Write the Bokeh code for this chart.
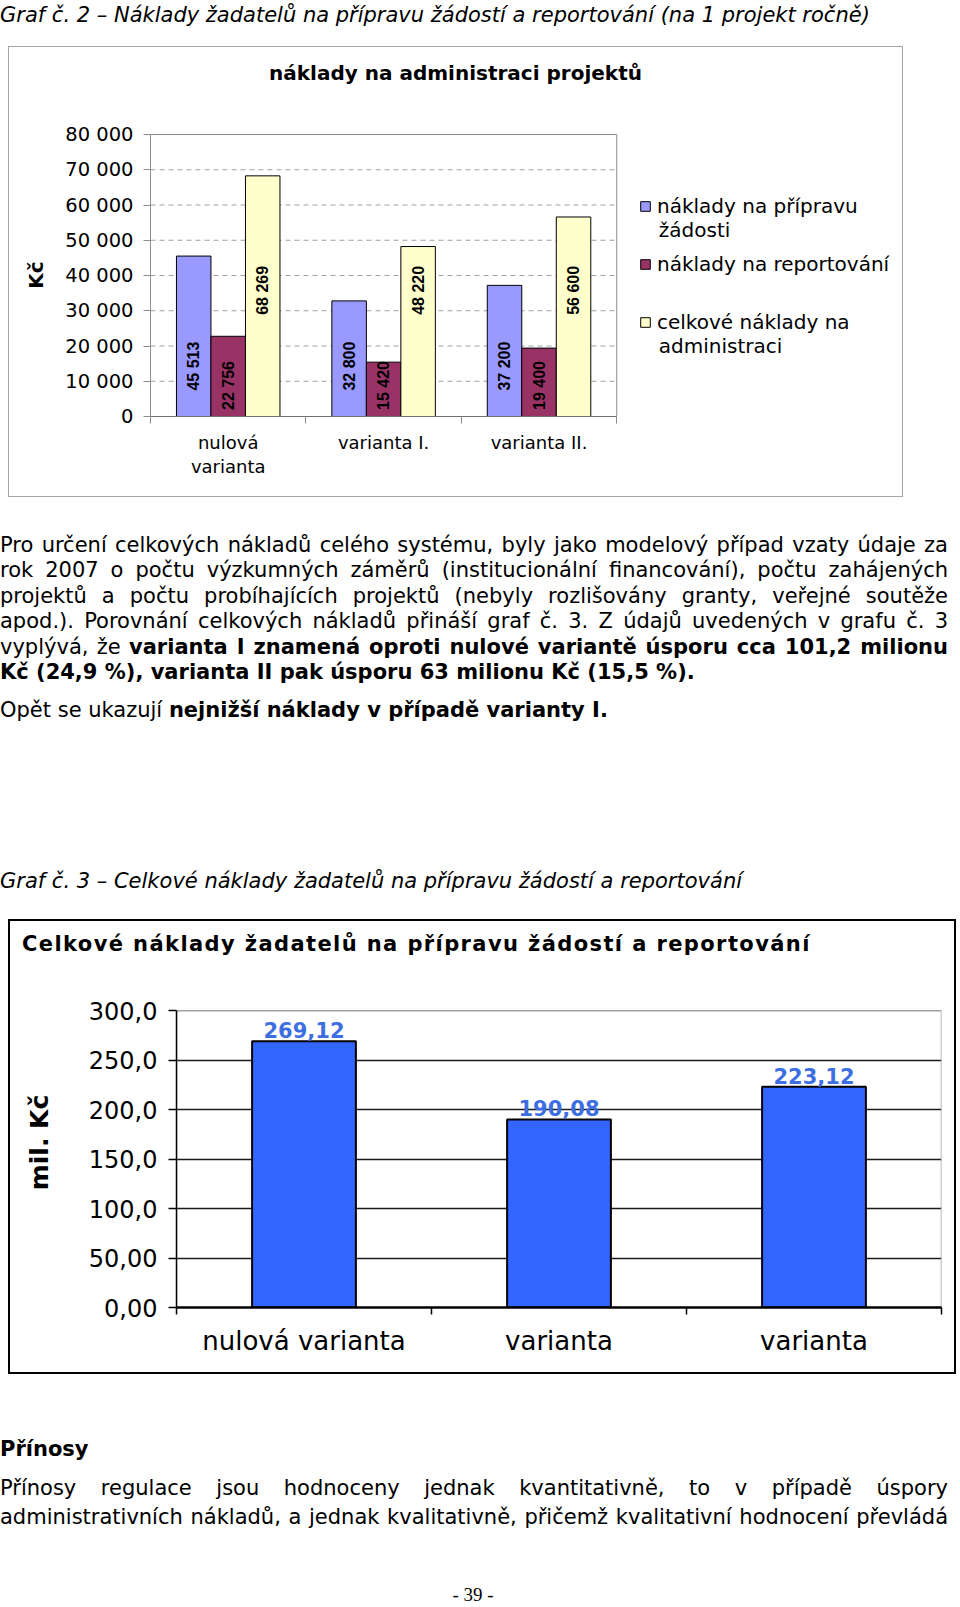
import numpy as np
from bokeh.plotting import figure
from bokeh.models import (Range1d, FixedTicker, Legend, LegendItem, Label, Div,
                          ColumnDataSource)
from bokeh.layouts import column
from bokeh.embed import file_html
from bokeh.resources import INLINE
from bokeh.core.properties import value

# ---------------- data: Graf č. 2 ----------------
graf2_title = "náklady na administraci projektů"
graf2_categories = ["nulová\nvarianta", "varianta I.", "varianta II."]
graf2_series = [["náklady na přípravu", "žádosti"], ["náklady na reportování"],
                ["celkové náklady na", "administraci"]]
naklady_priprava = [45513, 32800, 37200]
naklady_reportovani = [22756, 15420, 19400]
naklady_celkove = [68269, 48220, 56600]
graf2_yticks = [0, 10000, 20000, 30000, 40000, 50000, 60000, 70000, 80000]
graf2_ytick_labels = ["0", "10 000", "20 000", "30 000", "40 000", "50 000",
                      "60 000", "70 000", "80 000"]

# ---------------- data: Graf č. 3 ----------------
graf3_title = "Celkové náklady žadatelů na přípravu žádostí a reportování"
graf3_categories = ["nulová varianta", "varianta", "varianta"]
graf3_totals = [269.12, 190.08, 223.12]
graf3_yticks = [0, 50, 100, 150, 200, 250, 300]
graf3_ytick_labels = ["0,00", "50,00", "100,0", "150,0", "200,0", "250,0", "300,0"]

FONT = "DejaVu Sans"
GREY = "#8c8c8c"
BOX1 = "1px solid #a6a6a6"
BOX2 = "2px solid black"


# =============== text helpers ===============
def tline(top, inner, size=21, justify=False, height=26, extra="", width=948, left=0):
    align = "text-align:justify;text-align-last:justify;" if justify else "text-align:left;"
    return (f'<div style="position:absolute;left:{left}px;top:{top}px;width:{width}px;'
            f'height:{height}px;line-height:{height}px;font-size:{size}px;'
            f"font-family:'DejaVu Sans';color:#000;{align}{extra}\">{inner}</div>")


def block(h, lines, w=960, styles=None, margin=(0, 0, 0, 0)):
    kw = {}
    if styles:
        kw["styles"] = styles
    return Div(text=f'<div style="position:relative;width:{w}px;height:{h}px;">'
               + "".join(lines) + "</div>",
               width=w, height=h, margin=margin, **kw)


# =============== figure 1 (Graf č. 2) ===============
# page geometry: box 8..903 x 46..497 (1px border); title strip 46..110;
# plot area 150..615 x 134..415; legend to the right inside the frame
W1, H1 = 895, 387
CAN_L1, CAN_T1, CAN_R1, CAN_B1 = 9, 110, 902, 496
FX0, FX1, FY0, FY1 = 150, 615, 415, 134
FTOP1 = 133
n1 = len(graf2_categories)
ymax1 = graf2_yticks[-1]


def x1(px):
    return (px - FX0) / (FX1 - FX0) * n1


def y1(py):
    return (FY0 - py) / (FY0 - FY1) * ymax1


div_t1 = block(64, [tline(13, f"<b>{graf2_title}</b>", size=20, height=26, width=893,
                          extra="text-align:center;white-space:nowrap;")],
               w=895, margin=(0, 0, 0, 8),
               styles={"border": BOX1, "border-bottom": "none",
                       "box-sizing": "border-box", "background": "white"})

p1 = figure(width=W1, height=H1,
            x_range=Range1d(0, x1(CAN_R1)), y_range=Range1d(0, y1(FTOP1)),
            output_backend="svg", toolbar_location=None,
            min_border_left=FX0 - CAN_L1, min_border_right=0,
            min_border_top=FTOP1 - CAN_T1, min_border_bottom=CAN_B1 - FY0,
            margin=(0, 0, 0, 8), frame_align=False,
            styles={"border": BOX1, "border-top": "none"})
p1.outline_line_color = None
p1.background_fill_color = "white"
p1.border_fill_color = "white"
p1.xgrid.visible = False
p1.ygrid.visible = False

ya = p1.yaxis[0]
ya.bounds = (0, ymax1)
ya.ticker = FixedTicker(ticks=graf2_yticks)
ya.major_label_overrides = dict(zip(graf2_yticks, graf2_ytick_labels))
ya.axis_line_color = GREY
ya.major_tick_line_color = GREY
ya.major_tick_out = 7
ya.major_tick_in = 0
ya.minor_tick_line_color = None
ya.major_label_text_font = FONT
ya.major_label_text_font_size = "19.5px"
ya.major_label_text_color = "black"
ya.major_label_standoff = 10
ya.axis_label = "Kč"
ya.axis_label_text_font = FONT
ya.axis_label_text_font_style = "bold"
ya.axis_label_text_font_size = "20px"
ya.axis_label_text_color = "black"
ya.axis_label_standoff = 14

centers1 = [i + 0.5 for i in range(n1)]
xa = p1.xaxis[0]
xa.bounds = (0, n1)
xa.ticker = FixedTicker(ticks=centers1, minor_ticks=list(range(n1 + 1)))
xa.major_label_overrides = dict(zip(centers1, graf2_categories))
xa.major_tick_out = 0
xa.major_tick_in = 0
xa.major_tick_line_color = None
xa.minor_tick_out = 7
xa.minor_tick_in = 0
xa.minor_tick_line_color = GREY
xa.axis_line_color = "#707070"
xa.major_label_text_font = FONT
xa.major_label_text_font_size = "18px"
xa.major_label_text_line_height = 1.15
xa.major_label_text_color = "black"
xa.major_label_standoff = 8

# plot-area gridlines and border
grid_y = graf2_yticks[1:-1]
p1.segment(x0=[0] * len(grid_y), x1=[n1] * len(grid_y), y0=grid_y, y1=grid_y,
           line_color="#a0a0a0", line_dash="5 4", line_width=1)
p1.quad(left=[0], right=[n1], bottom=[0], top=[ymax1], fill_color=None,
        line_color=GREY, line_width=1)

bw = 0.222
colors1 = ["#9999FF", "#993366", "#FFFFCC"]
label_anchor = [14300, 8800, 35800]   # vertical anchor of rotated value labels
series_vals = [naklady_priprava, naklady_reportovani, naklady_celkove]
renderers = []
for k, (vals, col) in enumerate(zip(series_vals, colors1)):
    src = ColumnDataSource(dict(
        x=[c + (k - 1) * bw for c in centers1], top=vals,
        lab=[f"{v:,}".replace(",", " ") for v in vals],
        ly=[label_anchor[k]] * n1))
    r = p1.vbar(x="x", top="top", width=bw, fill_color=col, line_color="black",
                line_width=1, source=src)
    renderers.append(r)
    p1.text(x="x", y="ly", text="lab", angle=np.pi / 2, text_align="center",
            text_baseline="middle", text_font=value("Liberation Sans"),
            text_font_style="bold", text_font_size="16px", text_color="black",
            source=src)

# legend: page y of first text line of each entry, second line 24px lower
leg_line_y = [205, 263, 321]
LEG_X, LEG_TXT_X, LEG_LH = 639, 656, 24
for lines, r, ly in zip(graf2_series, renderers, leg_line_y):
    vy = FY0 - (ly - LEG_LH / 2 + LEG_LH)
    lg = Legend(items=[LegendItem(label=value(lines[0]), renderers=[r])],
                location=(LEG_X - FX0, vy),
                padding=0, margin=0, spacing=0, border_line_color=None,
                background_fill_alpha=0, glyph_width=12, glyph_height=12,
                label_standoff=6, label_text_font=FONT, label_text_font_size="20px",
                label_text_color="black", label_height=LEG_LH)
    p1.add_layout(lg, "center")
    for j, extra in enumerate(lines[1:], start=1):
        p1.add_layout(Label(x=x1(LEG_TXT_X + 1), y=y1(ly + j * LEG_LH), text=extra,
                            text_align="left", text_baseline="middle", text_font=FONT,
                            text_font_size="20px", text_color="black"))

# =============== figure 2 (Graf č. 3) ===============
# page geometry: box 8..956 x 919..1374 (2px border); title strip 919..969;
# plot area 176..937 x 1010..1305 (frame extends a little higher)
W2, H2 = 948, 405
CAN_L2, CAN_T2, CAN_R2, CAN_B2 = 10, 969, 954, 1372
GX0, GX1, GY0, GY1 = 176, 937, 1305, 1010
FTOP2 = 977
n2 = len(graf3_categories)
ymax2 = graf3_yticks[-1]


def y2(py):
    return (GY0 - py) / (GY0 - GY1) * ymax2


div_t2 = block(50, [tline(8.6, f"<b>{graf3_title}</b>", size=21, height=28, width=900,
                          left=12, extra="letter-spacing:1.4px;white-space:nowrap;")],
               w=948, margin=(0, 0, 0, 8),
               styles={"border": BOX2, "border-bottom": "none",
                       "box-sizing": "border-box", "background": "white"})

p2 = figure(width=W2, height=H2, x_range=Range1d(0, n2), y_range=Range1d(0, y2(FTOP2)),
            output_backend="svg", toolbar_location=None,
            min_border_left=GX0 - CAN_L2, min_border_right=CAN_R2 - GX1,
            min_border_top=FTOP2 - CAN_T2, min_border_bottom=CAN_B2 - GY0,
            margin=(0, 0, 0, 8), frame_align=False,
            styles={"border": BOX2, "border-top": "none"})
p2.outline_line_color = None
p2.background_fill_color = "white"
p2.border_fill_color = "white"

yb = p2.yaxis[0]
yb.bounds = (0, ymax2)
yb.ticker = FixedTicker(ticks=graf3_yticks)
yb.major_label_overrides = dict(zip(graf3_yticks, graf3_ytick_labels))
yb.axis_line_color = "black"
yb.axis_line_width = 1.5
yb.major_tick_line_color = "black"
yb.major_tick_line_width = 1.5
yb.major_tick_out = 8
yb.major_tick_in = 0
yb.minor_tick_line_color = None
yb.major_label_text_font = FONT
yb.major_label_text_font_size = "24px"
yb.major_label_text_color = "black"
yb.major_label_standoff = 11
yb.axis_label = "mil. Kč"
yb.axis_label_text_font = FONT
yb.axis_label_text_font_style = "bold"
yb.axis_label_text_font_size = "25px"
yb.axis_label_text_color = "black"
yb.axis_label_standoff = 32

centers2 = [i + 0.5 for i in range(n2)]
xb = p2.xaxis[0]
xb.ticker = FixedTicker(ticks=centers2, minor_ticks=list(range(n2 + 1)))
xb.major_label_overrides = dict(zip(centers2, graf3_categories))
xb.major_tick_out = 0
xb.major_tick_in = 0
xb.major_tick_line_color = None
xb.minor_tick_out = 7
xb.minor_tick_in = 0
xb.minor_tick_line_color = "black"
xb.minor_tick_line_width = 1.5
xb.axis_line_color = "black"
xb.axis_line_width = 2.5
xb.major_label_text_font = FONT
xb.major_label_text_font_size = "26px"
xb.major_label_text_color = "black"
xb.major_label_standoff = 11

p2.xgrid.visible = False
p2.ygrid.ticker = FixedTicker(ticks=graf3_yticks[1:-1])
p2.ygrid.grid_line_color = "#1a1a1a"
p2.ygrid.grid_line_width = 1.5

# plot-area border (top/right grey)
p2.quad(left=[0], right=[n2], bottom=[0], top=[ymax2], fill_color=None,
        line_color="#a0a0a0", line_width=1.5)

src2 = ColumnDataSource(dict(x=centers2, top=graf3_totals,
                             lab=[f"{v:.2f}".replace(".", ",") for v in graf3_totals]))
p2.vbar(x="x", top="top", width=0.407, fill_color="#3366FF", line_color="black",
        line_width=2, source=src2)
p2.text(x="x", y="top", text="lab", y_offset=-3, text_align="center",
        text_baseline="bottom", text_font=value(FONT), text_font_style="bold",
        text_font_size="21px", text_color="#3d6fe3", source=src2)

# =============== text blocks ===============
div1 = block(46, [tline(2, "Graf č. 2 – Náklady žadatelů na přípravu žádostí a reportování (na 1 projekt ročně)",
                         extra="font-style:italic;")])

div2 = block(422, [
    tline(35, "Pro určení celkových nákladů celého systému, byly jako modelový případ vzaty údaje za", justify=True),
    tline(60, "rok 2007 o počtu výzkumných záměrů (institucionální financování), počtu zahájených", justify=True),
    tline(85.5, "projektů a počtu probíhajících projektů (nebyly rozlišovány granty, veřejné soutěže", justify=True),
    tline(111, "apod.). Porovnání celkových nákladů přináší graf č. 3. Z údajů uvedených v grafu č. 3", justify=True),
    tline(136.5, "vyplývá, že <b>varianta I znamená oproti nulové variantě úsporu cca 101,2 milionu</b>", justify=True),
    tline(162, "<b>Kč (24,9 %), varianta II pak úsporu 63 milionu Kč (15,5 %).</b>"),
    tline(200, "Opět se ukazují <b>nejnižší náklady v případě varianty I.</b>"),
    tline(371, "Graf č. 3 – Celkové náklady žadatelů na přípravu žádostí a reportování",
          extra="font-style:italic;"),
])

div3 = block(233, [
    tline(62, "<b>Přínosy</b>"),
    tline(100.6, "Přínosy regulace jsou hodnoceny jednak kvantitativně, to v případě úspory", justify=True),
    tline(130, "administrativních nákladů, a jednak kvalitativně, přičemž kvalitativní hodnocení převládá", justify=True),
    tline(208, "- 39 -", size=19, width=946,
          extra="text-align:center;font-family:'Liberation Serif';"),
])

layout = column(div1, div_t1, p1, div2, div_t2, p2, div3, spacing=0)

open("out.html", "w").write(file_html(layout, INLINE))
